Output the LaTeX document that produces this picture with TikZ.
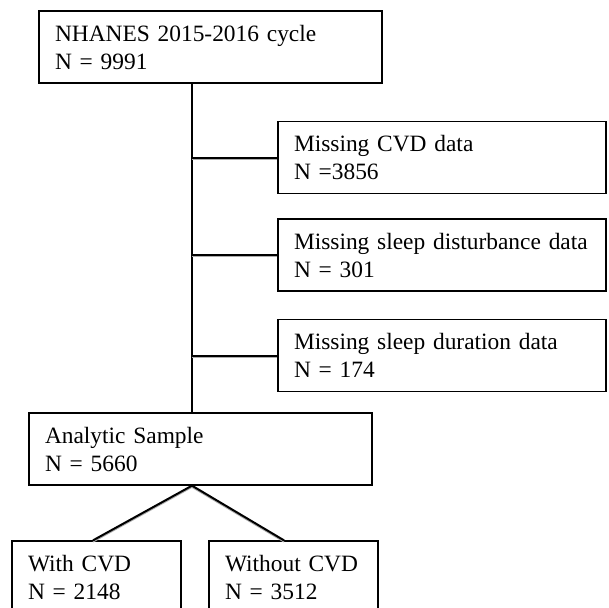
\documentclass[tikz,border=0pt]{standalone}
\usepackage{fontspec}
\setmainfont{Liberation Serif}
\usetikzlibrary{positioning}

\begin{document}
\begin{tikzpicture}
	[x=1pt, y=-1pt, inner sep=0pt,
	flowbox/.style	= {rectangle, draw, line width=1.3pt, inner xsep=16pt, inner ysep=0pt, minimum height=72pt, align=left, text width=#1, font=\fontsize{23.4}{28}\selectfont},
	link/.style	= {line width=2pt, preaction={draw, gray!65, line width=1.2pt, transform canvas={yshift=-1.6pt}}}]

	\clip (0, 0) rectangle (609, 607);

	\node at (210.5, 47)	[flowbox=311pt]	(nhanes)	{NHANES 2015-2016 cycle\\N = 9991};
	\node at (442, 157.5)	[flowbox=296pt]	(cvd)		{Missing CVD data\\N =3856};
	\node at (442, 255)		[flowbox=296pt]	(dist)		{Missing sleep disturbance data\\N = 301};
	\node at (442, 355.5)	[flowbox=296pt]	(dur)		{Missing sleep duration data\\N = 174};
	\node at (200.5, 449)	[flowbox=311pt]	(sample)	{Analytic Sample\\N = 5660};
	\node at (96.5, 577)	[flowbox=137pt]	(with)		{With CVD\\N = 2148};
	\node at (293.5, 577)	[flowbox=137pt]	(without)	{Without CVD\\N = 3512};

	\coordinate (spine) at (192, 0);

	\draw [line width=2pt] (nhanes.south -| spine) -- (sample.north -| spine);
	\draw [link] (cvd.west -| spine) -- (cvd.west);
	\draw [link] (dist.west -| spine) -- (dist.west);
	\draw [link] (dur.west -| spine) -- (dur.west);

	\draw [link] (sample.south -| spine) -- ([xshift=-3.5pt]with.north);
	\draw [link] (sample.south -| spine) -- ([xshift=-9.5pt]without.north);

\end{tikzpicture}
\end{document}
